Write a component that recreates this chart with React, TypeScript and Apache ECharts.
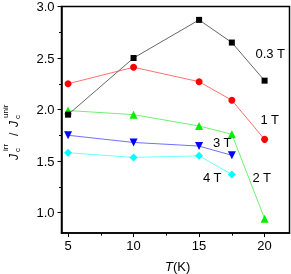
import React, { useEffect, useRef } from "react";
import * as echarts from "echarts";

const temps = [5, 10, 15, 17.5, 20];
const temps4 = [5, 10, 15, 17.5];
const t03 = [1.95, 2.5, 2.87, 2.65, 2.28];
const t1 = [2.25, 2.41, 2.27, 2.09, 1.71];
const t2 = [1.99, 1.95, 1.84, 1.76, 0.94];
const t3 = [1.75, 1.68, 1.645, 1.555];
const t4 = [1.58, 1.535, 1.55, 1.37];
const xMajor = [5, 10, 15, 20];
const xMinor = [7.5, 12.5, 17.5];
const yMajor = [1.0, 1.5, 2.0, 2.5, 3.0];
const yMinor = [1.25, 1.75, 2.25, 2.75];
const seriesLabels = ["0.3 T", "1 T", "2 T", "3 T", "4 T"];

const FONT = "'Liberation Sans', Arial, sans-serif";

const pair = (xs: number[], ys: number[]) => xs.map((x, i) => [x, ys[i]]);

export default function App() {
  const ref = useRef<HTMLDivElement>(null);
  useEffect(() => {
    if (!ref.current) return;
    const chart = echarts.init(ref.current, null, { renderer: "svg" });
    const axisCommon = {
      type: "value" as const,
      splitLine: { show: false },
    };
    const mkText = (text: string, x: number, y: number, extra: any = {}) => ({
      type: "text",
      x,
      y,
      style: {
        text,
        fontSize: 13,
        fontFamily: FONT,
        fill: "#000",
        verticalAlign: "middle",
        align: "left",
        ...extra,
      },
    });
    const sub = (text: string, x: number, y: number, size = 8, italic = false) => ({
      type: "text",
      x,
      y,
      style: {
        text,
        fontSize: size,
        fontFamily: FONT,
        fontStyle: italic ? "italic" : "normal",
        fill: "#000",
        verticalAlign: "middle",
        align: "left",
      },
    });
    const option: any = {
      animation: false,
      grid: {
        left: 61.5,
        right: 1.5,
        top: 4.7,
        bottom: 40.9,
        show: true,
        borderColor: "#000",
        borderWidth: 1.5,
        backgroundColor: "transparent",
      },
      xAxis: [
        {
          ...axisCommon,
          min: 4.5,
          max: 21.9,
          axisLine: { show: true, lineStyle: { color: "#000", width: 1.5 } },
          axisTick: { show: true, inside: false, length: 4, customValues: xMajor, lineStyle: { color: "#000", width: 1 } },
          axisLabel: { show: true, customValues: xMajor, margin: 6, color: "#000", fontSize: 13, fontFamily: FONT },
        },
        {
          ...axisCommon,
          min: 4.5,
          max: 21.9,
          position: "bottom",
          axisLine: { show: false },
          axisTick: { show: true, inside: false, length: 2.5, customValues: xMinor, lineStyle: { color: "#000", width: 1 } },
          axisLabel: { show: false },
        },
      ],
      yAxis: [
        {
          ...axisCommon,
          min: 0.8,
          max: 3.0,
          axisLine: { show: true, lineStyle: { color: "#000", width: 1.5 } },
          axisTick: { show: true, inside: false, length: 4, customValues: yMajor, lineStyle: { color: "#000", width: 1 } },
          axisLabel: {
            show: true,
            customValues: yMajor,
            margin: 7,
            color: "#000",
            fontSize: 13,
            fontFamily: FONT,
            formatter: (v: number) => v.toFixed(1),
          },
        },
        {
          ...axisCommon,
          min: 0.8,
          max: 3.0,
          position: "left",
          axisLine: { show: false },
          axisTick: { show: true, inside: false, length: 2.5, customValues: yMinor, lineStyle: { color: "#000", width: 1 } },
          axisLabel: { show: false },
        },
      ],
      series: [
        {
          name: seriesLabels[1],
          type: "line",
          data: pair(temps, t1),
          symbol: "circle",
          symbolSize: 7,
          itemStyle: { color: "#ff0000" },
          lineStyle: { color: "#ff7070", width: 1 },
          z: 3,
        },
        {
          name: seriesLabels[2],
          type: "line",
          data: pair(temps, t2),
          symbol: "triangle",
          symbolSize: 8,
          itemStyle: { color: "#00ee00" },
          lineStyle: { color: "#70f070", width: 1 },
          z: 3,
        },
        {
          name: seriesLabels[3],
          type: "line",
          data: pair(temps4, t3),
          symbol: "triangle",
          symbolRotate: 180,
          symbolSize: 8,
          itemStyle: { color: "#0000ff" },
          lineStyle: { color: "#7070ff", width: 1 },
          z: 3,
        },
        {
          name: seriesLabels[4],
          type: "line",
          data: pair(temps4, t4),
          symbol: "diamond",
          symbolSize: 8,
          itemStyle: { color: "#00ffff" },
          lineStyle: { color: "#70ffff", width: 1 },
          z: 3,
        },
        {
          name: seriesLabels[0],
          type: "line",
          data: pair(temps, t03),
          symbol: "rect",
          symbolSize: 6,
          itemStyle: { color: "#000" },
          lineStyle: { color: "#666", width: 1 },
          z: 4,
        },
      ],
      graphic: [
        mkText(seriesLabels[0], 255.5, 53),
        mkText(seriesLabels[1], 260.5, 119.5),
        mkText(seriesLabels[3], 213, 142),
        mkText(seriesLabels[4], 203, 177),
        mkText(seriesLabels[2], 252.5, 177),
        {
          type: "group",
          x: 165,
          y: 266,
          children: [
            sub("T", 0, 0, 13, true),
            sub("(K)", 8, 0, 13, false),
          ],
        },
        {
          type: "group",
          x: 14,
          y: 160,
          rotation: Math.PI / 2,
          children: [
            sub("J", 0, 0, 12, true),
            sub("c", 8, 3.5, 8),
            sub("irr", 9, -8.5, 8),
            sub("/", 24, 0, 12),
            sub("J", 33, 0, 12, true),
            sub("c", 41, 3.5, 8),
            sub("unir", 42, -8.5, 8),
          ],
        },
      ],
    };
    chart.setOption(option);
    return () => chart.dispose();
  }, []);
  return (
    <div
      ref={ref}
      style={{ position: "fixed", left: 0, top: 0, width: 291, height: 274 }}
    />
  );
}
